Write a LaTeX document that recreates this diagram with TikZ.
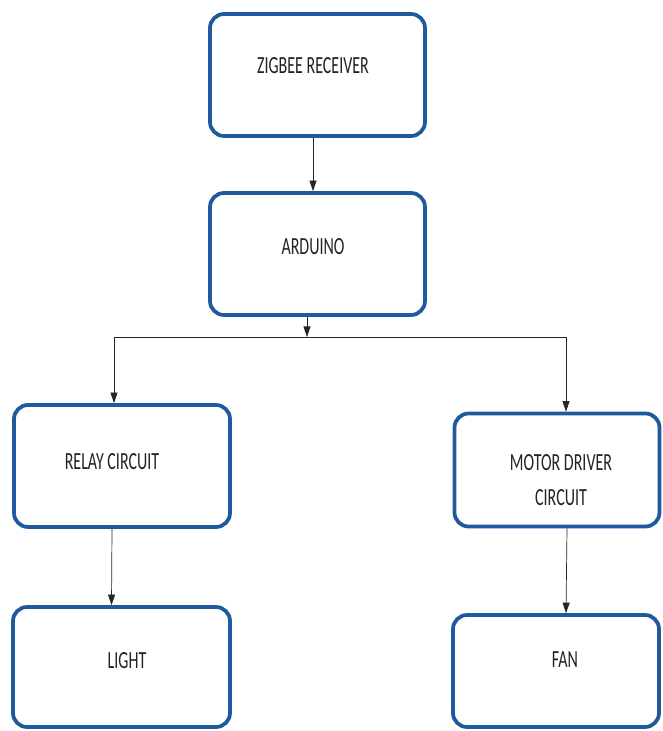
\documentclass[tikz,border=0pt]{standalone}
\usepackage{fontspec}
\newfontfamily\boxfont[FakeStretch=0.65]{Carlito}
\usetikzlibrary{arrows.meta,positioning,calc}
\definecolor{boxblue}{RGB}{31,90,156}
\definecolor{labelgray}{RGB}{34,34,40}

\tikzset{
  block/.style={rectangle, draw=boxblue, line width=3.2pt, rounded corners=12pt, fill=white, inner sep=0pt},
  blocklabel/.style={font=\boxfont\fontsize{21}{30}\selectfont, text=labelgray, align=center, inner sep=0pt},
  flow/.style={-{Triangle[width=6pt,length=9pt]}, line width=0.6pt, draw=black!85},
  wire/.style={line width=0.6pt, draw=black!85},
}

\begin{document}
\begin{tikzpicture}[x=0.03cm, y=-0.03cm]
    \useasboundingbox (0,0) rectangle (662,731);

    % Zigbee receiver
    \node[block, minimum width=6.45cm, minimum height=3.66cm] (zigbee) at (317.5,75) {};
    \node[blocklabel] (zigbeetxt) at (313,66) {ZIGBEE RECEIVER};

    % Arduino
    \node[block, minimum width=6.45cm, minimum height=3.66cm] (arduino) at (317.5,254) {};
    \node[blocklabel] (arduinotxt) at (313,247) {ARDUINO};

    % Relay circuit
    \node[block, minimum width=6.48cm, minimum height=3.66cm] (relay) at (122,466) {};
    \node[blocklabel] (relaytxt) at (112,462) {RELAY CIRCUIT};

    % Motor driver circuit
    \node[block, minimum width=6.15cm, minimum height=3.39cm] (motor) at (557,470) {};
    \node[blocklabel] (motortxt) at (561,480) {MOTOR DRIVER\\CIRCUIT};

    % Light
    \node[block, minimum width=6.51cm, minimum height=3.6cm] (light) at (121.5,667) {};
    \node[blocklabel] (lighttxt) at (127,661) {LIGHT};

    % Fan
    \node[block, minimum width=6.18cm, minimum height=3.36cm] (fan) at (556,671) {};
    \node[blocklabel] (fantxt) at (565,660) {FAN};

    % Branch points
    \coordinate (split) at (307,337);
    \coordinate (splitL) at (114,337);
    \coordinate (splitR) at (566,337);

    % Connections
    \draw[flow] ($(zigbee.south)+(-4.5,0)$) -- ($(arduino.north)+(-4.5,0)$);
    \draw[flow] (arduino.south -| split) -- (split);
    \draw[wire] (splitL) -- (splitR);
    \draw[flow] (splitL) -- (relay.north -| splitL);
    \draw[flow] (splitR) -- (motor.north -| splitR);
    \draw[flow] ($(relay.south)+(-10,0)$) -- ($(light.north)+(-10,0)$);
    \draw[flow] ($(motor.south)+(10,0)$) -- ($(fan.north)+(10,0)$);
\end{tikzpicture}
\end{document}
